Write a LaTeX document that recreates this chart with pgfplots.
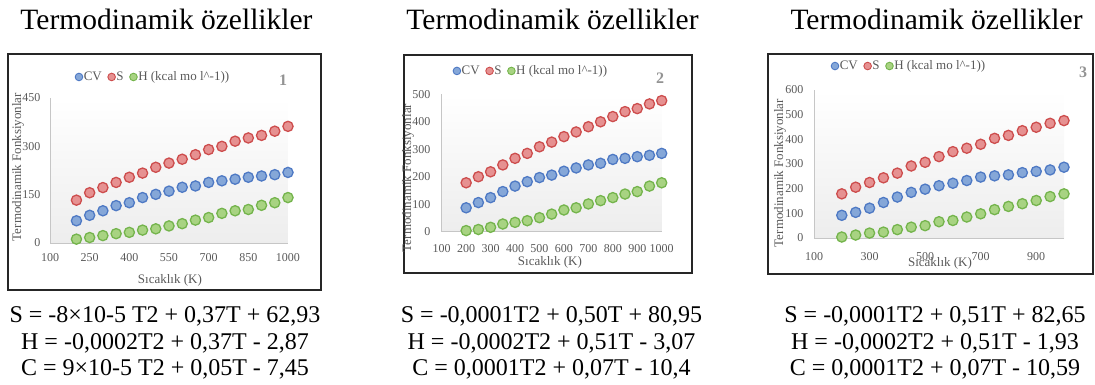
\documentclass[border=0pt]{standalone}
\usepackage{pgfplots}
\pgfplotsset{compat=1.18}
\usepackage{fontspec}
\setmainfont{Liberation Serif}

\definecolor{cvfill}{RGB}{133,167,216}
\definecolor{cvedge}{RGB}{78,121,196}
\definecolor{sfill}{RGB}{230,145,145}
\definecolor{sedge}{RGB}{205,77,77}
\definecolor{hfill}{RGB}{168,211,130}
\definecolor{hedge}{RGB}{116,180,76}
\definecolor{txtgray}{RGB}{89,89,89}

\pgfplotsset{
  thermo/.style={
    scale only axis,
    axis x line*=bottom, axis y line*=left,
    axis line style={gray!45, line width=0.8pt},
    major tick length=0pt,
    tick label style={font=\fontsize{12}{12}\selectfont, text=txtgray},
    /pgf/number format/assume math mode=true,
    /pgf/number format/1000 sep={},
    label style={font=\fontsize{13}{13}\selectfont, text=txtgray},
    axis background/.style={shade, top color=white, bottom color=gray!14},
    xmin=100, xmax=1000, ymin=0,
    clip=false,
    legend columns=-1,
    legend style={draw=none, fill=none, font=\fontsize{13}{13}\selectfont,
      text=txtgray, inner sep=0pt, anchor=west, nodes={inner sep=1pt},
      /tikz/every even column/.append style={column sep=5pt}},
    legend image code/.code={\draw[#1, mark size=3.8pt, line width=0.9pt] plot coordinates {(4pt,0pt)};},
  },
  cv/.style={only marks, mark=*, mark size=5.1pt, line width=1.3pt, mark options={fill=cvfill, draw=cvedge}},
  sp/.style={only marks, mark=*, mark size=5.1pt, line width=1.3pt, mark options={fill=sfill, draw=sedge}},
  hp/.style={only marks, mark=*, mark size=5.1pt, line width=1.3pt, mark options={fill=hfill, draw=hedge}},
}

\newcommand{\legtext}{H (kcal mo l\textasciicircum-1))}

\begin{document}
\begin{tikzpicture}

% frames around the three charts
\draw[line width=1.5pt, black!85] (8pt,-54pt) rectangle (321pt,-290pt);
\draw[line width=1.5pt, black!85] (404pt,-55pt) rectangle (692pt,-273pt);
\draw[line width=1.5pt, black!85] (768pt,-54pt) rectangle (1093pt,-274pt);

% ---------------- chart 1 ----------------
\begin{axis}[thermo,
  at={(50pt,-243pt)}, anchor=south west,
  width=238pt, height=145pt,
  ymax=450, ytick={0,150,300,450},
  xtick={100,250,...,1000},
  xticklabel style={yshift=-6.8pt},
  yticklabel style={xshift=-6pt},
  xlabel={Sıcaklık (K)}, ylabel={Termodinamik Fonksiyonlar},
  x label style={at={(axis description cs:0.504,-0.255)}, anchor=center},
  y label style={at={(axis description cs:-0.134,0.524)}, anchor=center},
  legend style={at={(0.105,1.145)}},
]
\addplot[cv] coordinates {(200,69)(250,86)(300,100)(350,116)(400,125)(450,141)(500,151)(550,161)(600,173)(650,177)(700,188)(750,193)(800,198)(850,204)(900,208)(950,212)(1000,219)};
\addplot[sp] coordinates {(200,133)(250,156)(300,172)(350,188)(400,204)(450,217)(500,235)(550,248)(600,260)(650,274)(700,290)(750,300)(800,316)(850,326)(900,334)(950,347)(1000,362)};
\addplot[hp] coordinates {(200,12)(250,17)(300,23)(350,29)(400,33)(450,40)(500,44)(550,53)(600,60)(650,71)(700,79)(750,92)(800,100)(850,104)(900,117)(950,125)(1000,141)};
\legend{CV, S, \legtext}
\end{axis}

% ---------------- chart 2 ----------------
\begin{axis}[thermo,
  at={(441.7pt,-231.7pt)}, anchor=south west,
  width=220pt, height=137.4pt,
  ymax=500, ytick={0,100,...,500},
  xtick={100,200,...,1000},
  xticklabel style={yshift=-9.5pt},
  yticklabel style={xshift=-7.7pt},
  xlabel={Sıcaklık (K)}, ylabel={Termodinamik Fonksiyonlar},
  x label style={at={(axis description cs:0.492,-0.226)}, anchor=center},
  y label style={at={(axis description cs:-0.153,0.391)}, anchor=center},
  legend style={at={(0.051,1.17)}},
]
\addplot[cv] coordinates {(200,87)(250,106)(300,124)(350,146)(400,166)(450,182)(500,197)(550,206)(600,220)(650,232)(700,243)(750,249)(800,263)(850,267)(900,273)(950,278)(1000,285)};
\addplot[sp] coordinates {(200,178)(250,200)(300,218)(350,243)(400,267)(450,285)(500,309)(550,326)(600,346)(650,363)(700,382)(750,400)(800,419)(850,437)(900,448)(950,465)(1000,477)};
\addplot[hp] coordinates {(200,4)(250,8)(300,16)(350,28)(400,34)(450,40)(500,51)(550,64)(600,79)(650,87)(700,101)(750,113)(800,124)(850,137)(900,146)(950,166)(1000,178)};
\legend{CV, S, \legtext}
\end{axis}

% ---------------- chart 3 ----------------
\begin{axis}[thermo,
  at={(814pt,-238pt)}, anchor=south west,
  width=250pt, height=148pt,
  ymax=600, ytick={0,100,...,600},
  xtick={100,300,...,900},
  xticklabel style={yshift=-10.8pt},
  yticklabel style={xshift=-7pt},
  xlabel={Sıcaklık (K)}, ylabel={Termodinamik Fonksiyonlar},
  x label style={at={(axis description cs:0.504,-0.169)}, anchor=center},
  y label style={at={(axis description cs:-0.136,0.439)}, anchor=center},
  legend style={at={(0.068,1.162)}},
]
\addplot[cv] coordinates {(200,92)(250,104)(300,121)(350,144)(400,166)(450,185)(500,198)(550,212)(600,222)(650,233)(700,247)(750,252)(800,256)(850,265)(900,270)(950,276)(1000,287)};
\addplot[sp] coordinates {(200,179)(250,206)(300,225)(350,244)(400,263)(450,292)(500,307)(550,330)(600,350)(650,364)(700,380)(750,404)(800,416)(850,435)(900,449)(950,465)(1000,476)};
\addplot[hp] coordinates {(200,4)(250,12)(300,20)(350,24)(400,34)(450,44)(500,50)(550,66)(600,71)(650,85)(700,98)(750,115)(800,128)(850,139)(900,152)(950,168)(1000,179)};
\legend{CV, S, \legtext}
\end{axis}

% chart numbers
\begin{scope}[every node/.style={font=\fontsize{16}{16}\selectfont\bfseries, text=gray!85}]
\node at (283pt,-80pt) {1};
\node at (660pt,-78pt) {2};
\node at (1083pt,-72pt) {3};
\end{scope}

% headings
\begin{scope}[every node/.style={font=\fontsize{29.5}{30}\selectfont, anchor=base}]
\node at (166.5pt,-30pt) {Termodinamik özellikler};
\node at (552.5pt,-30pt) {Termodinamik özellikler};
\node at (936.5pt,-30pt) {Termodinamik özellikler};
\end{scope}

% fitted equations
\begin{scope}[every node/.style={font=\fontsize{24}{24}\selectfont, anchor=base}]
\node at (165pt,-322pt) {S = -8×10-5 T2 + 0,37T + 62,93};
\node at (165pt,-349pt) {H = -0,0002T2 + 0,37T - 2,87};
\node at (165pt,-375pt) {C = 9×10-5 T2 + 0,05T - 7,45};
\node at (551.5pt,-322pt) {S = -0,0001T2 + 0,50T + 80,95};
\node at (551.5pt,-349pt) {H = -0,0002T2 + 0,51T - 3,07};
\node at (551.5pt,-375pt) {C = 0,0001T2 + 0,07T - 10,4};
\node at (935pt,-322pt) {S = -0,0001T2 + 0,51T + 82,65};
\node at (935pt,-349pt) {H = -0,0002T2 + 0,51T - 1,93};
\node at (935pt,-375pt) {C = 0,0001T2 + 0,07T - 10,59};
\end{scope}

\pgfresetboundingbox
\path[use as bounding box] (0pt,0pt) rectangle (1095pt,-385pt);
\end{tikzpicture}
\end{document}
